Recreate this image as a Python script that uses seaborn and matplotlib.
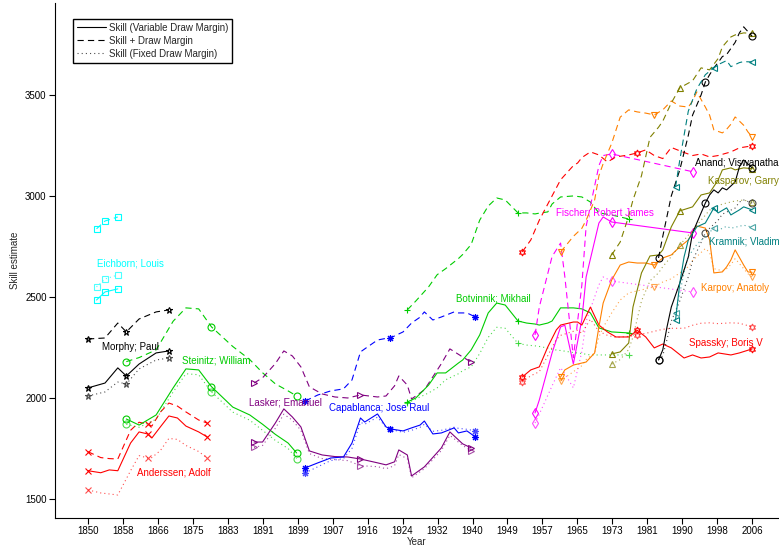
import numpy as np
import matplotlib
matplotlib.use("Agg")
import matplotlib.pyplot as plt
from matplotlib.lines import Line2D
import seaborn as sns

# ---- data (year, skill) ----
anderssen_years = [1850, 1853, 1855, 1857, 1860, 1862, 1864, 1865, 1867, 1869, 1871, 1873, 1876, 1878]
anderssen_solid = [1640, 1630, 1644, 1640, 1777, 1832, 1822, 1802, 1857, 1911, 1901, 1861, 1832, 1807]
anderssen_dashed = [1734, 1705, 1700, 1698, 1840, 1880, 1871, 1861, 1930, 1975, 1960, 1931, 1891, 1876]
anderssen_dotted = [1545, 1530, 1525, 1520, 1640, 1715, 1703, 1705, 1740, 1800, 1795, 1765, 1735, 1703]

morphy_years = [1850, 1854, 1857, 1859, 1862, 1866, 1869]
morphy_solid = [2050, 2074, 2149, 2109, 2168, 2223, 2233]
morphy_dashed = [2292, 2297, 2371, 2327, 2391, 2426, 2436]
morphy_dotted = [2010, 2030, 2079, 2069, 2144, 2188, 2198]

eichborn_years = [1852, 1854, 1857]
eichborn_solid = [2485, 2525, 2540]
eichborn_dashed = [2837, 2876, 2896]
eichborn_dotted = [2550, 2589, 2609]

steinitz_years = [1859, 1862, 1866, 1870, 1873, 1876, 1879, 1884, 1888, 1891, 1894, 1897, 1899]
steinitz_solid = [1896, 1866, 1916, 2050, 2144, 2139, 2056, 1955, 1916, 1870, 1820, 1777, 1728]
steinitz_dashed = [2180, 2200, 2238, 2380, 2446, 2441, 2352, 2255, 2190, 2125, 2070, 2035, 2010]
steinitz_dotted = [1870, 1855, 1895, 2030, 2120, 2115, 2030, 1930, 1890, 1840, 1790, 1750, 1700]

lasker_years = [1889, 1891, 1894, 1896, 1898, 1900, 1902, 1905, 1908, 1911, 1914,
                1918, 1920, 1922, 1923, 1925, 1926, 1929, 1933, 1935, 1938, 1940]
lasker_solid = [1782, 1782, 1876, 1946, 1906, 1857, 1738, 1718, 1710, 1708, 1698,
                1679, 1669, 1684, 1743, 1718, 1614, 1659, 1753, 1832, 1773, 1753]
lasker_dashed = [2074, 2100, 2170, 2233, 2208, 2154, 2055, 2020, 2005, 2000, 2015,
                 2005, 2010, 2060, 2109, 2064, 1995, 2040, 2170, 2243, 2203, 2178]
lasker_dotted = [1755, 1765, 1850, 1920, 1890, 1840, 1725, 1700, 1695, 1690, 1665,
                 1660, 1650, 1665, 1720, 1700, 1605, 1650, 1740, 1815, 1765, 1740]

capablanca_years = [1901, 1904, 1907, 1910, 1912, 1914, 1915, 1918, 1920, 1921,
                    1924, 1926, 1928, 1929, 1931, 1933, 1936, 1937, 1939, 1941]
capablanca_solid = [1654, 1679, 1703, 1708, 1777, 1901, 1881, 1921, 1857, 1847,
                    1837, 1852, 1866, 1886, 1822, 1827, 1852, 1827, 1837, 1807]
capablanca_dashed = [1985, 2015, 2035, 2045, 2089, 2228, 2243, 2287, 2295, 2297,
                     2327, 2371, 2400, 2426, 2386, 2401, 2426, 2421, 2421, 2401]
capablanca_dotted = [1629, 1660, 1690, 1700, 1750, 1880, 1870, 1905, 1855, 1845,
                     1830, 1840, 1855, 1870, 1835, 1840, 1855, 1850, 1845, 1837]

botvinnik_years = [1925, 1927, 1930, 1932, 1934, 1937, 1938, 1940, 1942, 1944, 1946, 1948, 1951,
                   1953, 1955, 1956, 1958, 1959, 1961, 1964, 1966, 1968, 1970, 1973, 1977]
botvinnik_solid = [1980, 2000, 2064, 2124, 2124, 2173, 2188, 2238, 2312, 2421, 2470, 2460, 2381,
                   2371, 2366, 2361, 2371, 2381, 2446, 2446, 2441, 2421, 2347, 2327, 2322]
botvinnik_dashed = [2436, 2480, 2550, 2610, 2640, 2690, 2710, 2760, 2880, 2950, 2990, 2980, 2916,
                    2916, 2911, 2915, 2921, 2960, 2995, 3000, 2995, 2970, 2916, 2906, 2886]
botvinnik_dotted = [1975, 1995, 2025, 2050, 2090, 2120, 2135, 2154, 2220, 2300, 2350, 2345, 2270,
                    2262, 2258, 2255, 2247, 2240, 2235, 2225, 2220, 2213, 2213, 2213, 2213]

fischer_years = [1955, 1956, 1959, 1961, 1962, 1964, 1966, 1967, 1970, 1971, 1973, 1992]
fischer_solid = [1926, 1990, 2223, 2352, 2360, 2168, 2390, 2599, 2866, 2896, 2871, 2817]
fischer_dashed = [2312, 2450, 2700, 2767, 2600, 2200, 2560, 2850, 3150, 3200, 3208, 3120]
fischer_dotted = [1876, 1920, 2060, 2150, 2120, 2050, 2230, 2380, 2560, 2599, 2579, 2525]

spassky_years = [1952, 1954, 1956, 1958, 1960, 1961, 1964, 1965, 1966, 1968, 1970, 1972, 1974, 1977,
                 1979, 1981, 1983, 1985, 1987, 1990, 1992, 1994, 1996, 1998, 2001, 2003, 2006]
spassky_solid = [2104, 2139, 2154, 2253, 2337, 2361, 2376, 2376, 2361, 2450, 2361, 2327, 2302, 2302,
                 2335, 2302, 2248, 2267, 2248, 2198, 2213, 2198, 2203, 2223, 2213, 2223, 2243]
spassky_dashed = [2723, 2782, 2880, 2960, 3040, 3080, 3150, 3163, 3190, 3218, 3203, 3168, 3193, 3203,
                  3213, 3228, 3200, 3185, 3240, 3215, 3200, 3208, 3193, 3200, 3218, 3238, 3248]
spassky_dotted = [2079, 2110, 2130, 2210, 2290, 2310, 2330, 2335, 2320, 2390, 2330, 2310, 2300, 2305,
                  2312, 2320, 2330, 2340, 2345, 2345, 2360, 2370, 2372, 2368, 2372, 2370, 2352]

karpov_years = [1961, 1962, 1964, 1966, 1967, 1969, 1970, 1971, 1973, 1975, 1977, 1979, 1981, 1983, 1985,
                1987, 1989, 1991, 1992, 1993, 1995, 1996, 1997, 1999, 2000, 2001, 2002, 2004, 2005, 2006]
karpov_solid = [2104, 2139, 2163, 2173, 2178, 2223, 2352, 2470, 2584, 2658, 2673, 2668, 2668, 2658, 2693,
                2708, 2748, 2782, 2822, 2851, 2841, 2782, 2619, 2624, 2649, 2683, 2733, 2658, 2624, 2622]
karpov_dashed = [2723, 2748, 2800, 2840, 2880, 2980, 3100, 3160, 3260, 3390, 3426, 3416, 3410, 3401, 3426,
                 3470, 3445, 3440, 3470, 3515, 3440, 3400, 3327, 3312, 3330, 3355, 3391, 3350, 3317, 3292]
karpov_dotted = [2084, 2100, 2130, 2160, 2190, 2223, 2302, 2350, 2421, 2485, 2520, 2530, 2540, 2550, 2574,
                 2590, 2619, 2650, 2680, 2700, 2740, 2720, 2640, 2630, 2640, 2660, 2690, 2640, 2615, 2600]

kasparov_years = [1973, 1975, 1977, 1978, 1980, 1982, 1984, 1985, 1987, 1989,
                  1992, 1994, 1996, 1998, 1999, 2001, 2002, 2004, 2006]
kasparov_solid = [2218, 2228, 2272, 2450, 2619, 2703, 2708, 2733, 2847, 2926,
                  2946, 3005, 3015, 3079, 3129, 3139, 3129, 3139, 3135]
kasparov_dashed = [2708, 2772, 2900, 2980, 3100, 3290, 3340, 3370, 3460, 3535,
                   3570, 3634, 3624, 3680, 3738, 3787, 3797, 3807, 3805]
kasparov_dotted = [2168, 2190, 2240, 2302, 2480, 2580, 2619, 2650, 2700, 2757,
                   2830, 2880, 2930, 2950, 2960, 2970, 2975, 2980, 2968]

anand_years = [1984, 1985, 1986, 1987, 1989, 1991, 1992, 1994, 1995,
               1996, 1997, 1998, 1999, 2000, 2002, 2003, 2004, 2006]
anand_solid = [2188, 2238, 2352, 2450, 2569, 2698, 2817, 2916, 2965,
               3005, 3030, 3015, 3040, 3030, 3069, 3144, 3178, 3139]
anand_dashed = [2693, 2800, 2900, 3000, 3129, 3300, 3400, 3500, 3564,
                3600, 3634, 3660, 3690, 3700, 3760, 3807, 3837, 3790]
anand_dotted = [2190, 2210, 2290, 2380, 2480, 2600, 2680, 2770, 2817,
                2840, 2860, 2880, 2910, 2920, 2940, 2970, 2980, 2965]

kramnik_years = [1988, 1989, 1990, 1991, 1993, 1995, 1997, 1998, 2000, 2001, 2003, 2004, 2006]
kramnik_solid = [2386, 2569, 2698, 2782, 2847, 2866, 2941, 2916, 2941, 2906, 2931, 2946, 2931]
kramnik_dashed = [3045, 3178, 3300, 3420, 3530, 3600, 3634, 3650, 3670, 3640, 3660, 3665, 3663]
kramnik_dotted = [2421, 2520, 2620, 2700, 2760, 2800, 2841, 2830, 2850, 2840, 2850, 2855, 2846]

x_tick_labels = [1850, 1858, 1866, 1875, 1883, 1891, 1899, 1907, 1916, 1924,
                 1932, 1940, 1949, 1957, 1965, 1973, 1981, 1990, 1998, 2006]
y_ticks = [1500, 2000, 2500, 3000, 3500]
legend_labels = ["Skill (Variable Draw Margin)", "Skill + Draw Margin", "Skill (Fixed Draw Margin)"]

players = [
    ("Anderssen; Adolf", anderssen_years, anderssen_solid, anderssen_dashed, anderssen_dotted),
    ("Morphy; Paul", morphy_years, morphy_solid, morphy_dashed, morphy_dotted),
    ("Eichborn; Louis", eichborn_years, eichborn_solid, eichborn_dashed, eichborn_dotted),
    ("Steinitz; William", steinitz_years, steinitz_solid, steinitz_dashed, steinitz_dotted),
    ("Lasker; Emanuel", lasker_years, lasker_solid, lasker_dashed, lasker_dotted),
    ("Capablanca; Jose Raul", capablanca_years, capablanca_solid, capablanca_dashed, capablanca_dotted),
    ("Botvinnik; Mikhail", botvinnik_years, botvinnik_solid, botvinnik_dashed, botvinnik_dotted),
    ("Fischer; Robert James", fischer_years, fischer_solid, fischer_dashed, fischer_dotted),
    ("Spassky; Boris V", spassky_years, spassky_solid, spassky_dashed, spassky_dotted),
    ("Karpov; Anatoly", karpov_years, karpov_solid, karpov_dashed, karpov_dotted),
    ("Kasparov; Garry", kasparov_years, kasparov_solid, kasparov_dashed, kasparov_dotted),
    ("Anand; Viswanathan", anand_years, anand_solid, anand_dashed, anand_dotted),
    ("Kramnik; Vladimir", kramnik_years, kramnik_solid, kramnik_dashed, kramnik_dotted),
]

# colour, marker, label anchor (left, centre)
styles = {
    "Anderssen; Adolf": ("#ff0000", "x", (1861.5, 1632)),
    "Morphy; Paul": ("#000000", "*", (1853.3, 2254)),
    "Eichborn; Louis": ("#00ffff", "s", (1852.1, 2668)),
    "Steinitz; William": ("#00cc00", "o", (1872.1, 2188)),
    "Lasker; Emanuel": ("#800080", ">", (1887.8, 1977)),
    "Capablanca; Jose Raul": ("#0000ff", (8, 2, 0), (1906.6, 1949)),
    "Botvinnik; Mikhail": ("#00cc00", "+", (1936.4, 2494)),
    "Fischer; Robert James": ("#ff00ff", "d", (1959.9, 2917)),
    "Spassky; Boris V": ("#ff0000", (6, 1, 0), (1991.2, 2274)),
    "Karpov; Anatoly": ("#ff8000", "v", (1994.0, 2543)),
    "Kasparov; Garry": ("#808000", "^", (1995.6, 3074)),
    "Anand; Viswanathan": ("#000000", "o", (1992.6, 3165)),
    "Kramnik; Vladimir": ("#008080", "<", (1995.9, 2774)),
}

sns.set_style("ticks")
plt.rcParams["font.family"] = ["Liberation Sans", "DejaVu Sans"]
plt.rcParams["lines.scale_dashes"] = False

fig = plt.figure(figsize=(7.79, 5.52), dpi=100)
ax = fig.add_axes([55 / 779, 34 / 552, 724 / 779, 515 / 552])

line_kinds = [("-", 1.0), ((0, (4.5, 3)), 1.0), ((0, (0.8, 2.2)), 0.7)]

for name, years, solid, dashed, dotted in players:
    color, marker, (tx, ty) = styles[name]
    yrs = np.array(years, dtype=float)
    mid = int(np.argmin(np.abs(yrs - (yrs[0] + yrs[-1]) / 2)))
    marks = [0, mid, len(yrs) - 1]
    for vals, (ls, alpha) in zip([solid, dashed, dotted], line_kinds):
        sns.lineplot(x=yrs, y=vals, ax=ax, estimator=None, sort=False, legend=False,
                     color=color, linestyle=ls, linewidth=0.8, alpha=alpha,
                     marker=marker, markevery=marks, markersize=5,
                     markerfacecolor="none", markeredgecolor=color, markeredgewidth=0.8)
    ax.text(tx, ty, name, color=color, fontsize=7, ha="left", va="center")

ax.set_xlim(1842.25, 2012.3)
ax.set_ylim(1406, 3955)
xt = np.linspace(x_tick_labels[0], x_tick_labels[-1], len(x_tick_labels))
ax.set_xticks(xt)
ax.set_xticklabels([str(v) for v in x_tick_labels])
ax.set_yticks(y_ticks)
ax.tick_params(direction="out", length=4, width=0.8, labelsize=7, pad=2, colors="k")
for s in ["left", "bottom"]:
    ax.spines[s].set_linewidth(0.8)
    ax.spines[s].set_color("k")
sns.despine(ax=ax)
ax.set_xlabel("Year", fontsize=7, labelpad=0.5)
ax.set_ylabel("Skill estimate", fontsize=7, labelpad=4)

handles = [Line2D([], [], color="k", linewidth=0.8, linestyle=ls, alpha=a) for ls, a in line_kinds]
leg = ax.legend(handles, legend_labels, loc="upper left", bbox_to_anchor=(0.025, 0.969),
                borderaxespad=0, fontsize=7, frameon=True, fancybox=False, edgecolor="k",
                framealpha=1, handlelength=3, handletextpad=0.3, labelspacing=0.3, borderpad=0.4)
leg.get_frame().set_linewidth(1.0)

fig.savefig("out.png", dpi=100)
